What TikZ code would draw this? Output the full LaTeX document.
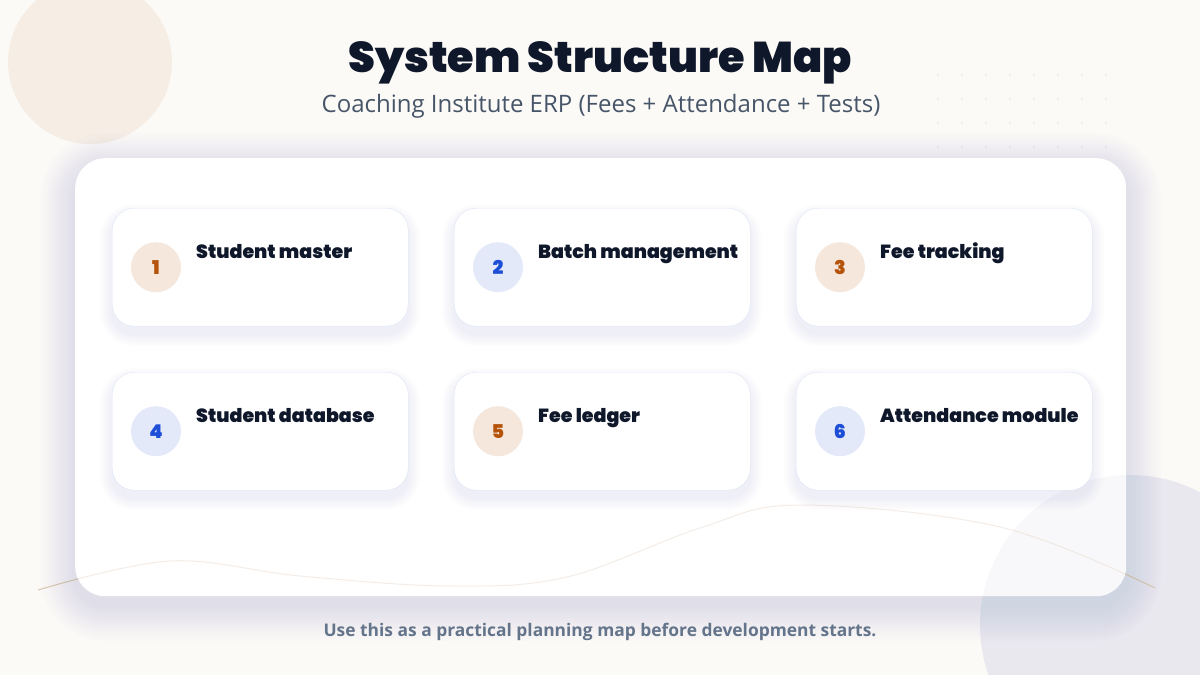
\documentclass[tikz,border=0pt]{standalone}
\usepackage{fontspec}
\setmainfont{Open Sans}
\IfFontExistsTF{Poppins Black}{\newfontfamily\heavyfont{Poppins Black}}{\newfontfamily\heavyfont{Poppins Bold}}
\definecolor{ink}{HTML}{0F172A}
\definecolor{slate}{HTML}{475569}
\definecolor{mute}{HTML}{64748B}
\definecolor{rust}{HTML}{B45309}
\definecolor{royal}{HTML}{1D4ED8}
\definecolor{peach}{HTML}{F5E7DC}
\definecolor{mist}{HTML}{E3E9F8}
\definecolor{edge}{HTML}{DCE5F4}
\definecolor{cream}{HTML}{FCFAF7}
\definecolor{sand}{HTML}{F6EEE5}
\definecolor{lilac}{HTML}{E9E8EF}
\definecolor{tan}{HTML}{DCC6B0}
\definecolor{dotc}{HTML}{ECEEF2}
\definecolor{haze}{HTML}{52608A}
\tikzset{
  x=1pt, y=-1pt,
}
\tikzstyle{panel}=[fill=white, rounded corners=30pt, minimum width=1051pt, minimum height=438pt, anchor=north west]
\tikzstyle{card}=[draw=edge, fill=white, rounded corners=22pt, minimum width=296pt, minimum height=118pt, anchor=north west]
\tikzstyle{glow}=[fill=haze, opacity=.009]
\tikzstyle{badge}=[circle, minimum size=50pt, inner sep=0pt, font=\heavyfont\fontsize{19}{19}\selectfont]
\tikzstyle{lbl}=[anchor=base west, inner sep=0pt, text=ink, font=\heavyfont\fontsize{19}{19}\selectfont]
\tikzstyle{wave}=[tan, line width=1pt]

\begin{document}
\begin{tikzpicture}
  % background
  \fill[cream] (0,0) rectangle (1200,675);
  \useasboundingbox (0,0) rectangle (1200,675);
  \fill[sand] (90,62) circle (82pt);
  \fill[lilac] (1130,625) circle (150pt);
  \foreach \r in {0,...,3}
    \foreach \c in {0,...,7}
      \fill[dotc] (938+24*\c,75+24*\r) circle (1.3pt);
  \draw[wave] plot[smooth, tension=.6] coordinates {(38,590) (170,561) (300,576) (450,586) (567,577) (700,528) (800,505) (1000,527) (1155,588)};

  % heading
  \node[anchor=base, inner sep=0pt, text=ink, font=\heavyfont\fontsize{43}{43}\selectfont] (title) at (600,72) {System Structure Map};
  \node[anchor=base, inner sep=0pt, text=slate, font=\fontsize{24}{24}\selectfont] (subtitle) at (601,112) {Coaching Institute ERP (Fees + Attendance + Tests)};

  % panel with soft shadow
  \foreach \k in {1,...,14}
    \fill[glow, rounded corners=30pt+2.5pt*\k] (75-2.5*\k,168-2.5*\k) rectangle (1126+2.5*\k,606+2.5*\k);
  \node[panel] (panel) at (75,158) {};
  \begin{scope}
    \clip[rounded corners=30pt] (75,158) rectangle (1126,596);
    \fill[lilac, opacity=.3] (1130,625) circle (150pt);
    \draw[wave, opacity=.3] plot[smooth, tension=.6] coordinates {(38,590) (170,561) (300,576) (450,586) (567,577) (700,528) (800,505) (1000,527) (1155,588)};
  \end{scope}

  % modules
  \foreach \i/\x/\y/\t/\c/\f in {1/112/208/Student master/rust/peach,
      2/454/208/Batch management/royal/mist,
      3/796/208/Fee tracking/rust/peach,
      4/112/372/Student database/royal/mist,
      5/454/372/Fee ledger/rust/peach,
      6/796/372/Attendance module/royal/mist}{
    \foreach \k in {1,...,8}
      \fill[glow, rounded corners=22pt+1.5pt*\k] (\x-1.5*\k,\y+8-1.5*\k) rectangle (\x+296+1.5*\k,\y+126+1.5*\k);
    \node[card] (card\i) at (\x,\y) {};
    \node[badge, fill=\f, text=\c] (num\i) at ([xshift=44pt]card\i.west) {\i};
    \node[lbl] (lbl\i) at ([xshift=84pt, yshift=-50pt]card\i.north west) {\t};
  }

  \node[anchor=base, inner sep=0pt, text=mute, font=\bfseries\fontsize{17.4}{17.4}\selectfont] (note) at (600,636) {Use this as a practical planning map before development starts.};
\end{tikzpicture}
\end{document}
